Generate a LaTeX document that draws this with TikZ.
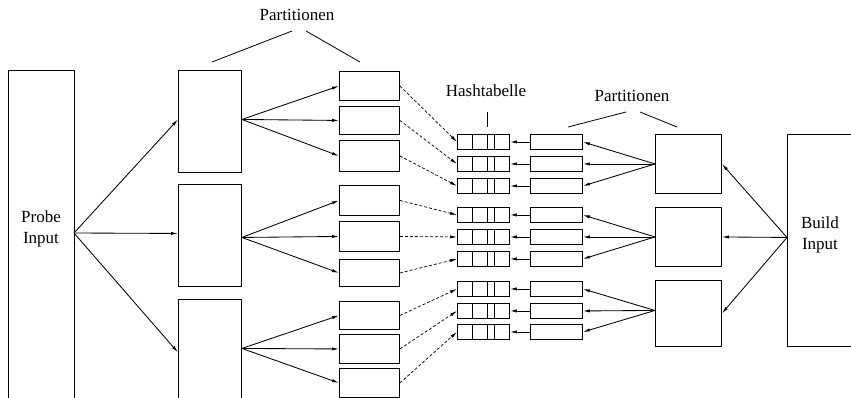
\documentclass[tikz,border=0pt]{standalone}
\usepackage{fontspec}
\setmainfont{Liberation Serif}
\usetikzlibrary{arrows.meta}
\newcommand\mybox[5]{\node[box,minimum width=#4pt,minimum height=#5pt] (#1) at (#2,#3) {};}
\begin{document}
\begin{tikzpicture}[x=1pt,y=-1pt,
  box/.style={draw, line width=0.9pt, inner sep=0pt, anchor=north west},
  arr/.style={-{Latex[length=7pt,width=3.2pt]}, line width=0.85pt},
  dsh/.style={arr, dash pattern=on 3pt off 2pt, line width=0.7pt},
  lbl/.style={font=\fontsize{17}{21}\selectfont, inner sep=0pt, align=center},
  thin/.style={line width=0.8pt}]
\useasboundingbox (0,0) rectangle (851,398);
\clip (0,0) rectangle (851,398);
% probe input
\mybox{probe}{8}{70}{66}{360}
\node[lbl] (probetxt) at (41,229) {Probe\\Input};
\coordinate (pout) at (74,233);
% probe partitions
\mybox{P1}{178}{70}{63}{102}
\mybox{P2}{178}{184}{63}{102}
\mybox{P3}{178}{299}{63}{106}
% small partitions
\mybox{s1}{339}{71}{60}{29}
\mybox{s2}{339}{106}{60}{28}
\mybox{s3}{339}{140}{60}{31}
\mybox{s4}{339}{185}{60}{30}
\mybox{s5}{339}{221}{60}{30}
\mybox{s6}{339}{259}{60}{27}
\mybox{s7}{339}{301}{60}{28}
\mybox{s8}{339}{334}{60}{29}
\mybox{s9}{339}{368}{60}{29}
% hash tables and right partitions
\foreach \n/\t in {1/134,2/156,3/178,4/207,5/229,6/251,7/281,8/303,9/324}{
  \mybox{h\n}{457}{\t}{52}{15}
  \mybox{r\n}{530}{\t}{52}{15}
  \draw[thin] ([xshift=15pt]h\n.north west) -- ([xshift=15pt]h\n.south west);
  \draw[thin] ([xshift=30pt]h\n.north west) -- ([xshift=30pt]h\n.south west);
  \draw[thin] ([xshift=37pt]h\n.north west) -- ([xshift=37pt]h\n.south west);
  \draw[arr] (r\n.west) -- (h\n.east);
  \draw[dsh] (s\n.east) -- (h\n.west);
}
% right big boxes
\mybox{B1}{655}{134}{66}{59}
\mybox{B2}{655}{207}{66}{59}
\mybox{B3}{655}{280}{66}{66}
% build input
\mybox{build}{787}{134}{100}{212}
\node[lbl] (buildtxt) at (820,235) {Build\\Input};
% arrows probe side
\draw[arr] (pout) -- ([yshift=2pt]P1.west);
\draw[arr] (pout) -- ([yshift=2pt]P2.west);
\draw[arr] (pout) -- (P3.west);
\foreach \s in {1,2,3} \draw[arr] ([yshift=2pt]P1.east) -- (s\s.west);
\foreach \s in {4,5,6} \draw[arr] ([yshift=-2pt]P2.east) -- (s\s.west);
\foreach \s in {7,8,9} \draw[arr] ([yshift=4pt]P3.east) -- (s\s.west);
% arrows build side
\foreach \s in {1,2,3} \draw[arr] (B1.west) -- (r\s.east);
\foreach \s in {4,5,6} \draw[arr] (B2.west) -- (r\s.east);
\foreach \s in {7,8,9} \draw[arr] ([yshift=3pt]B3.west) -- (r\s.east);
\foreach \b in {1,2,3} \draw[arr] ([yshift=3pt]build.west) -- (B\b.east);
% labels
\node[lbl] (lp1) at (297,15) {Partitionen};
\coordinate (lp1a) at (292,31); \coordinate (lp1b) at (212,62);
\coordinate (lp1c) at (306,31); \coordinate (lp1d) at (360,62);
\draw[thin] (lp1a) -- (lp1b); \draw[thin] (lp1c) -- (lp1d);
\node[lbl] (lh) at (486,91) {Hashtabelle};
\coordinate (lha) at (487,112); \coordinate (lhb) at (487,127);
\draw[thin] (lha) -- (lhb);
\node[lbl] (lp2) at (632,96) {Partitionen};
\coordinate (lp2a) at (626,112); \coordinate (lp2b) at (568,127);
\coordinate (lp2c) at (640,112); \coordinate (lp2d) at (677,127);
\draw[thin] (lp2a) -- (lp2b); \draw[thin] (lp2c) -- (lp2d);
\end{tikzpicture}
\end{document}
